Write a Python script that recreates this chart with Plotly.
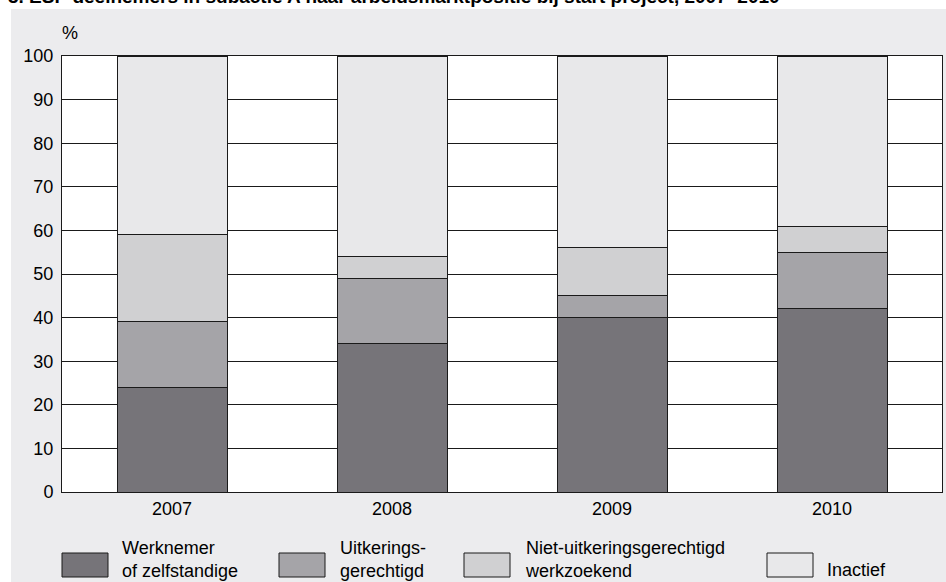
import plotly.graph_objects as go

years = ["2007", "2008", "2009", "2010"]
series_names = ["Werknemer<br>of zelfstandige", "Uitkerings-<br>gerechtigd",
                "Niet-uitkeringsgerechtigd<br>werkzoekend", "Inactief"]
werknemer = [24, 34, 40, 42]
uitkeringsgerechtigd = [15, 15, 5, 13]
werkzoekend = [20, 5, 11, 6]
inactief = [41, 46, 44, 39]
y_ticks = [0, 10, 20, 30, 40, 50, 60, 70, 80, 90, 100]

colors = ["#767479", "#a5a4a8", "#d0d0d2", "#e8e8ea"]
BG = "#ececee"
FONT = "Liberation Sans, Arial, sans-serif"

W, H = 946, 582
L, R, T, B = 62, 4, 56, 90
PW, PH = W - L - R, H - T - B


def px(x):
    return (x - L) / PW


def py(y):
    return (H - B - y) / PH


fig = go.Figure()
for name, vals, col in zip(series_names, [werknemer, uitkeringsgerechtigd, werkzoekend, inactief], colors):
    fig.add_trace(go.Bar(x=years, y=vals, name=name.replace("<br>", " "),
                         marker=dict(color=col, line=dict(color="#1a1a1a", width=1)),
                         showlegend=False))

shapes = [
    # white strips outside the grey panel
    dict(type="rect", xref="paper", yref="paper", x0=px(-20), x1=px(W + 20), y0=py(9), y1=py(-30),
         fillcolor="white", line_width=0, layer="below"),
    dict(type="rect", xref="paper", yref="paper", x0=px(-20), x1=px(11), y0=py(H + 20), y1=py(-30),
         fillcolor="white", line_width=0, layer="below"),
]
annotations = [
    dict(text="<b>3. ESF-deelnemers in subactie A naar arbeidsmarktpositie bij start project, 2007\u20132010</b>",
         xref="paper", yref="paper", x=px(6), y=py(-3.5), xanchor="left", yanchor="middle",
         showarrow=False, font=dict(size=19, color="black", family=FONT)),
    dict(text="%", xref="paper", yref="paper", x=px(60), y=py(33), xanchor="left", yanchor="middle",
         showarrow=False, font=dict(size=18, color="black", family=FONT)),
]

box_x = [62, 279, 464, 767]
text_x = [120, 338, 523, 825]
text_y = [559, 559, 559, 570]
for bx, tx, ty, name, col in zip(box_x, text_x, text_y, series_names, colors):
    shapes.append(dict(type="rect", xref="paper", yref="paper", x0=px(bx), x1=px(bx + 46),
                       y0=py(577), y1=py(553), fillcolor=col, line=dict(color="#1a1a1a", width=1)))
    annotations.append(dict(text=name, xref="paper", yref="paper", x=px(tx), y=py(ty),
                            xanchor="left", yanchor="middle", align="left", showarrow=False,
                            font=dict(size=18, color="black", family=FONT)))

fig.update_layout(
    width=W, height=H,
    margin=dict(l=L, r=R, t=T, b=B),
    barmode="stack", bargap=0.5,
    paper_bgcolor=BG, plot_bgcolor="white",
    font=dict(family=FONT, size=18, color="black"),
    shapes=shapes, annotations=annotations,
    xaxis=dict(showgrid=False, showline=True, linecolor="#1a1a1a", linewidth=1, mirror=True,
               ticks="", tickfont=dict(size=18), ticklabelstandoff=0),
    yaxis=dict(range=[0, 100], tickvals=y_ticks, showgrid=True, gridcolor="#1a1a1a", gridwidth=1,
               showline=True, linecolor="#1a1a1a", linewidth=1, mirror=True, zeroline=False,
               ticks="", tickfont=dict(size=18), ticklabelstandoff=4),
)

fig.write_html("out.html", config={"displayModeBar": False},
               post_script="document.body.style.margin='0';document.body.style.overflow='hidden';")
